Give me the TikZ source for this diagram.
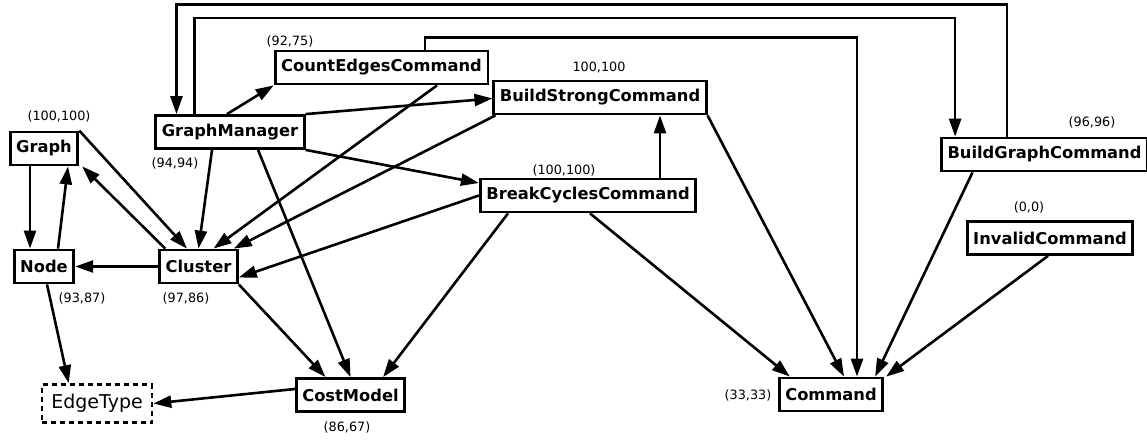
\documentclass[tikz,border=0pt]{standalone}
\usepackage{fontspec}
\setsansfont{DejaVu Sans}
\usetikzlibrary{arrows.meta}
\begin{document}
\begin{tikzpicture}[x=1pt, y=-1pt, font=\sffamily, line join=miter,
	cls/.style={draw, line width=2.8pt, fill=white, minimum height=33pt, inner xsep=6pt, font=\sffamily\bfseries\fontsize{16.3}{18}\selectfont},
	lbl/.style={inner sep=0pt, font=\sffamily\fontsize{12.8}{14}\selectfont},
	arr/.style={line width=2.6pt, -{Triangle[length=18pt, width=12pt]}}]

	\useasboundingbox (0,0) rectangle (1147,439);

	% Klassen
	\node[cls] (graph) at (44,148.5) {Graph};
	\node[cls] (node) at (44,266.5) {Node};
	\node[cls] (cluster) at (198.5,266.5) {Cluster};
	\node[cls] (gm) at (230,132) {GraphManager};
	\node[cls] (countedges) at (381.5,67.5) {CountEdgesCommand};
	\node[cls] (buildstrong) at (600,97.5) {BuildStrongCommand};
	\node[cls] (breakcycles) at (588,195.5) {BreakCyclesCommand};
	\node[cls] (buildgraph) at (1044.5,154.5) {BuildGraphCommand};
	\node[cls] (invalid) at (1050,238) {InvalidCommand};
	\node[cls] (command) at (831,394.5) {Command};
	\node[cls] (costmodel) at (350.5,395) {CostModel};
	\node[draw, dashed, dash pattern=on 5pt off 4pt, line width=2.6pt, minimum width=110pt, minimum height=38pt, font=\sffamily\fontsize{19}{21}\selectfont] (edgetype) at (97,403.5) {EdgeType};

	% Werte
	\node[lbl] (lgraph) at (59,116) {(100,100)};
	\node[lbl] (lgm) at (175,163) {(94,94)};
	\node[lbl] (lcountedges) at (290,41) {(92,75)};
	\node[lbl] (lbuildstrong) at (599,67) {100,100};
	\node[lbl] (lbreakcycles) at (564,170) {(100,100)};
	\node[lbl] (lbuildgraph) at (1092,122) {(96,96)};
	\node[lbl] (linvalid) at (1029,207) {(0,0)};
	\node[lbl] (lnode) at (82,298) {(93,87)};
	\node[lbl] (lcluster) at (186,298) {(97,86)};
	\node[lbl] (lcostmodel) at (347,427) {(86,67)};
	\node[lbl] (lcommand) at (748,395) {(33,33)};

	% Abhaengigkeiten
	\draw[arr] ([xshift=-14pt]graph.south) -- ([xshift=-14pt]node.north);
	\draw[arr] ([xshift=14pt]node.north) -- ([xshift=24pt]graph.south);
	\draw[arr] (graph.north east) -- ([xshift=-11.5pt]cluster.north);
	\draw[arr] ([xshift=7pt]cluster.north west) -- ([xshift=3pt]graph.south east);
	\draw[arr] (cluster.west) -- (node.east);
	\draw[arr] ([xshift=3pt]node.south) -- ([xshift=28pt]edgetype.north west);
	\draw[arr] ([xshift=-18pt]gm.south) -- (cluster.north);
	\draw[arr] ([xshift=-3pt]gm.north) -- (countedges.south west);
	\draw[arr] (gm.north east) -- ([yshift=-1pt]buildstrong.west);
	\draw[arr] (gm.south east) -- ([yshift=12.5pt]breakcycles.west);
	\draw[arr] ([xshift=28pt]gm.south) -- (costmodel.north);
	\draw[arr] ([xshift=55.5pt]countedges.south) -- ([xshift=15pt]cluster.north);
	\draw[arr] ([xshift=3pt]buildstrong.south west) -- ([xshift=-5pt]cluster.north east);
	\draw[arr] (breakcycles.west) -- ([yshift=-11pt]cluster.east);
	\draw[arr] ([xshift=72pt]breakcycles.north) -- ([xshift=60pt]buildstrong.south);
	\draw[arr] ([xshift=-80pt]breakcycles.south) -- ([xshift=-23pt]costmodel.north east);
	\draw[arr] ([xshift=2pt]breakcycles.south) -- ([xshift=12pt]command.north west);
	\draw[arr] (buildstrong.south east) -- ([xshift=13pt]command.north);
	\draw[arr] ([xshift=43.5pt]countedges.north) -- ++(0,-12) -| ([xshift=26pt]command.north);
	\draw[arr] ([xshift=-72pt]buildgraph.south) -- ([xshift=-9pt]command.north east);
	\draw[arr] ([xshift=-2pt]invalid.south) -- ([xshift=2pt]command.north east);
	\draw[arr] (cluster.south east) -- ([xshift=-25pt]costmodel.north);
	\draw[arr] ([yshift=6pt]costmodel.west) -- (edgetype.east);
	\draw[arr] ([xshift=-37.5pt]buildgraph.north) -- ++(0,-132) -| ([xshift=22pt]gm.north west);
	\draw[arr] ([xshift=40pt]gm.north west) -- ++(0,-96) -| ([xshift=15pt]buildgraph.north west);
\end{tikzpicture}
\end{document}
